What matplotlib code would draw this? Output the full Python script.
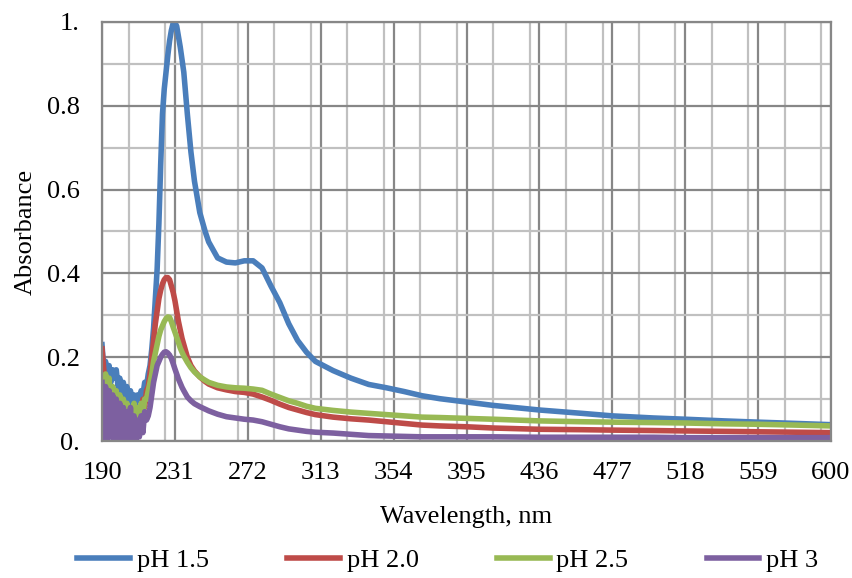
import matplotlib
matplotlib.use("Agg")
import matplotlib.pyplot as plt
from matplotlib.ticker import MultipleLocator, FixedLocator

plt.rcParams['font.family'] = ['Liberation Serif', 'DejaVu Serif']

# wavelength grid (nm): 1 nm steps through the noisy UV edge, coarser after the peak
wl = list(range(190, 237)) + [238, 240, 242, 245, 248, 250, 255, 260, 265, 270,
                              275, 280, 285, 290, 295, 300, 305, 310, 320, 330,
                              340, 350, 360, 370, 380, 395, 410, 436, 460, 477,
                              500, 518, 540, 559, 580, 600]

ph15 = [0.23, 0.17, 0.19, 0.15, 0.18, 0.14, 0.17, 0.15, 0.17, 0.13,
        0.15, 0.11, 0.14, 0.10, 0.13, 0.10, 0.12, 0.09, 0.11, 0.09,
        0.11, 0.10, 0.12, 0.11, 0.14, 0.13, 0.16, 0.18, 0.22, 0.27,
        0.34, 0.41, 0.52, 0.66, 0.78, 0.84, 0.88, 0.92, 0.955, 0.98,
        0.997, 0.998, 0.99, 0.965, 0.94, 0.91, 0.88,
        0.78, 0.69, 0.62, 0.545, 0.5, 0.475, 0.437, 0.427, 0.425, 0.43,
        0.43, 0.413, 0.37, 0.33, 0.28, 0.24, 0.212, 0.19, 0.168, 0.15,
        0.135, 0.127, 0.118, 0.108, 0.101, 0.093, 0.085, 0.074, 0.066, 0.06,
        0.055, 0.052, 0.048, 0.045, 0.042, 0.039]

ph20 = [0.22, 0.17, 0.05, 0.15, 0.03, 0.12, 0.02, 0.10, 0.01, 0.09,
        0.02, 0.08, -0.01, 0.07, 0.01, 0.08, -0.01, 0.06, -0.01, 0.07,
        0.02, 0.08, 0.05, 0.10, 0.08, 0.12, 0.13, 0.16, 0.20, 0.24,
        0.28, 0.31, 0.34, 0.36, 0.375, 0.385, 0.39, 0.39, 0.385, 0.37,
        0.355, 0.335, 0.31, 0.285, 0.265, 0.245, 0.23,
        0.2, 0.18, 0.167, 0.153, 0.142, 0.136, 0.127, 0.122, 0.118, 0.116,
        0.112, 0.105, 0.097, 0.088, 0.08, 0.074, 0.068, 0.063, 0.057, 0.053,
        0.05, 0.046, 0.042, 0.038, 0.036, 0.034, 0.031, 0.028, 0.027, 0.026,
        0.025, 0.024, 0.023, 0.022, 0.021, 0.02]

ph25 = [0.15, 0.08, 0.16, 0.07, 0.15, 0.06, 0.13, 0.05, 0.12, 0.05,
        0.11, 0.04, 0.10, 0.05, 0.09, 0.04, 0.08, 0.03, 0.09, 0.04,
        0.08, 0.05, 0.09, 0.06, 0.10, 0.10, 0.12, 0.14, 0.16, 0.19,
        0.21, 0.23, 0.25, 0.265, 0.275, 0.285, 0.292, 0.296, 0.295, 0.285,
        0.272, 0.26, 0.248, 0.235, 0.222, 0.212, 0.203,
        0.188, 0.175, 0.165, 0.153, 0.145, 0.14, 0.133, 0.129, 0.127, 0.126,
        0.124, 0.121, 0.112, 0.104, 0.096, 0.09, 0.083, 0.078, 0.073, 0.069,
        0.066, 0.063, 0.06, 0.057, 0.056, 0.054, 0.052, 0.048, 0.046, 0.045,
        0.044, 0.043, 0.041, 0.04, 0.038, 0.036]

ph30 = [0.14, -0.01, 0.13, -0.01, 0.12, 0.01, 0.11, -0.01, 0.10, -0.01,
        0.09, -0.01, 0.08, -0.01, 0.07, -0.01, 0.08, -0.01, 0.06, -0.01,
        0.05, 0.01, 0.06, 0.02, 0.07, 0.05, 0.06, 0.08, 0.11, 0.14,
        0.16, 0.18, 0.19, 0.2, 0.207, 0.212, 0.213, 0.21, 0.205, 0.197,
        0.185, 0.172, 0.16, 0.148, 0.138, 0.128, 0.12,
        0.105, 0.096, 0.089, 0.082, 0.076, 0.072, 0.064, 0.058, 0.055, 0.052,
        0.05, 0.046, 0.04, 0.034, 0.029, 0.026, 0.023, 0.021, 0.019, 0.016,
        0.013, 0.012, 0.011, 0.01, 0.01, 0.01, 0.01, 0.009, 0.009, 0.009,
        0.009, 0.008, 0.008, 0.008, 0.008, 0.008]

labels = ['pH 1.5', 'pH 2.0', 'pH 2.5', 'pH 3']
colors = ['#4a7ebb', '#be4b48', '#98b954', '#7d60a0']
x_ticks = [190, 231, 272, 313, 354, 395, 436, 477, 518, 559, 600]
y_ticks = [0.0, 0.2, 0.4, 0.6, 0.8, 1.0]
y_tick_labels = ['0.', '0.2', '0.4', '0.6', '0.8', '1.']

fs = 19

fig = plt.figure(figsize=(8.53, 5.78), dpi=100)
ax = fig.add_axes([0.1196, 0.237, 0.8546, 0.725])

for ys, lab, col in zip([ph15, ph20, ph25, ph30], labels, colors):
    ax.plot(wl, ys, color=col, lw=4.0, label=lab, solid_joinstyle='round')

ax.set_xlim(190, 600)
ax.set_ylim(0, 1.0)
ax.xaxis.set_major_locator(FixedLocator(x_ticks))
ax.xaxis.set_minor_locator(MultipleLocator(20.5))
ax.set_yticks(y_ticks)
ax.set_yticklabels(y_tick_labels)
ax.yaxis.set_minor_locator(MultipleLocator(0.1))

ax.grid(which='major', color='#878787', lw=1.6)
ax.grid(which='minor', color='#c0c0c0', lw=1.6)
ax.set_axisbelow(True)
for s in ax.spines.values():
    s.set_color('#878787')
    s.set_linewidth(1.6)

ax.tick_params(which='both', length=0, labelsize=fs, colors='black')
ax.tick_params(axis='x', pad=15)
ax.tick_params(axis='y', pad=16)

ax.set_xlabel('Wavelength, nm', fontsize=fs, labelpad=16)
ax.set_ylabel('Absorbance', fontsize=fs, labelpad=7)

fig.legend(loc='center', bbox_to_anchor=(0.525, 0.03), ncol=4, frameon=False,
           fontsize=fs, handlelength=2.0, columnspacing=2.97, handletextpad=0.25)

fig.savefig('out.png', dpi=100)
